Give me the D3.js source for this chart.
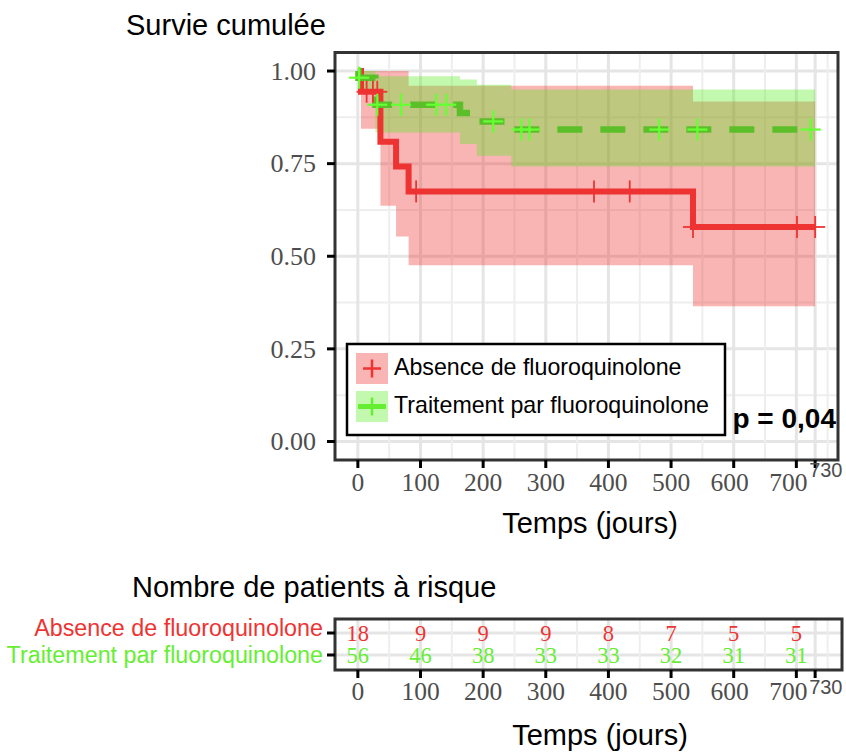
<!DOCTYPE html>
<html>
<head>
<meta charset="utf-8">
<script src="https://cdn.jsdelivr.net/npm/d3@7"></script>
<style>
  body { margin: 0; background: #fff; }
  .sans { font-family: "Liberation Sans", Arial, sans-serif; }
  .serif { font-family: "Liberation Serif", "Times New Roman", serif; }
</style>
</head>
<body>
<div id="chart"></div>
<script>
// ---- data ----
const groups = ["Absence de fluoroquinolone", "Traitement par fluoroquinolone"];
const xBreaks = [0, 100, 200, 300, 400, 500, 600, 700, 730];
const xMinor = [50, 150, 250, 350, 450, 550, 650, 750];
const yBreaks = [0, 0.25, 0.5, 0.75, 1];
const yMinor = [0.125, 0.375, 0.625, 0.875];
const riskTimes = [0, 100, 200, 300, 400, 500, 600, 700];

// Absence de fluoroquinolone (KM steps)
const absTime  = [0, 5, 36, 61, 81, 535];
const absSurv  = [1, 0.944, 0.809, 0.742, 0.675, 0.579];
const absUpper = [1, 1, 1, 1, 0.96, 0.918];
const absLower = [1, 0.844, 0.636, 0.553, 0.476, 0.365];
const absCensor = [14, 24, 31, 93, 377, 434, 535, 701, 730];
const absRisk = [18, 9, 9, 9, 8, 7, 5, 5];

// Traitement par fluoroquinolone
const trtTime  = [0, 1, 28, 163, 190, 245];
const trtSurv  = [1, 0.982, 0.909, 0.887, 0.864, 0.842];
const trtUpper = [1, 1, 0.986, 0.977, 0.963, 0.95];
const trtLower = [1, 0.948, 0.834, 0.803, 0.771, 0.742];
const trtCensor = [2, 31, 69, 125, 141, 216, 261, 274, 481, 542, 723];
const trtRisk = [56, 46, 38, 33, 33, 32, 31, 31];

const endTime = 730;
const pText = "p = 0,04";

const red = "#ee3333", green = "#66ee33", greenLine = "#5cbf2a";

const W = 846, H = 754;
const svg = d3.select("#chart").append("svg")
    .attr("width", W).attr("height", H)
    .style("background", "#fff");

// panel geometry
const P = { left: 335, right: 838, top: 52.5, bottom: 460 };
const T = { left: 335, right: 842, top: 619, bottom: 670 };

const x = d3.scaleLinear().domain([-36.5, 766.5]).range([P.left, P.right]);
const y = d3.scaleLinear().domain([-0.05, 1.05]).range([P.bottom, P.top]);

// tick labels near the right end sit a little to the left of their ticks
const labelNudge = d => d === 700 ? -8 : d === 600 ? -4 : 0;

function gridV(g, top, bottom) {
    g.selectAll(null).data(xMinor).enter().append("line")
        .attr("x1", d => x(d)).attr("x2", d => x(d)).attr("y1", top).attr("y2", bottom)
        .attr("stroke", "#eeeeee").attr("stroke-width", 2);
    g.selectAll(null).data(xBreaks).enter().append("line")
        .attr("x1", d => x(d)).attr("x2", d => x(d)).attr("y1", top).attr("y2", bottom)
        .attr("stroke", "#e5e5e5").attr("stroke-width", 3);
}

// ---------- main panel ----------
const main = svg.append("g");
svg.append("clipPath").attr("id", "pclip").append("rect")
    .attr("x", P.left).attr("y", P.top).attr("width", P.right - P.left).attr("height", P.bottom - P.top);

const grid = main.append("g").attr("clip-path", "url(#pclip)");
grid.selectAll(null).data(yMinor).enter().append("line")
    .attr("x1", P.left).attr("x2", P.right).attr("y1", d => y(d)).attr("y2", d => y(d))
    .attr("stroke", "#eeeeee").attr("stroke-width", 2);
grid.selectAll(null).data(yBreaks).enter().append("line")
    .attr("x1", P.left).attr("x2", P.right).attr("y1", d => y(d)).attr("y2", d => y(d))
    .attr("stroke", "#e5e5e5").attr("stroke-width", 3);
gridV(grid, P.top, P.bottom);

function steps(time, vals) {
    const pts = time.map((t, i) => ({ t, v: vals[i] }));
    pts.push({ t: endTime, v: vals[vals.length - 1] });
    return pts;
}
function bandPts(time, up, lo) {
    const pts = time.map((t, i) => ({ t, u: up[i], l: lo[i] }));
    pts.push({ t: endTime, u: up[up.length - 1], l: lo[lo.length - 1] });
    return pts.slice(1); // band starts at first event
}
const area = d3.area().curve(d3.curveStepAfter)
    .x(d => x(d.t)).y0(d => y(d.l)).y1(d => y(d.u));
const line = d3.line().curve(d3.curveStepAfter)
    .x(d => x(d.t)).y(d => y(d.v));

main.append("path").datum(bandPts(absTime, absUpper, absLower))
    .attr("d", area).attr("fill", red).attr("fill-opacity", 0.37);
main.append("path").datum(bandPts(trtTime, trtUpper, trtLower))
    .attr("d", area).attr("fill", "#55ee22").attr("fill-opacity", 0.36);

main.append("path").datum(steps(absTime, absSurv))
    .attr("d", line).attr("fill", "none").attr("stroke", red).attr("stroke-width", 6);
main.append("path").datum(steps(trtTime, trtSurv))
    .attr("d", line).attr("fill", "none").attr("stroke", greenLine).attr("stroke-width", 6.5)
    .attr("stroke-dasharray", "25,18");

function survAt(time, surv, t) {
    let s = surv[0];
    time.forEach((tt, i) => { if (tt <= t) s = surv[i]; });
    return s;
}
function censor(times, time, surv, color, sw) {
    times.forEach(t => {
        const cx = x(t), cy = y(survAt(time, surv, t));
        main.append("line").attr("x1", cx - 10).attr("x2", cx + 10).attr("y1", cy).attr("y2", cy)
            .attr("stroke", color).attr("stroke-width", sw);
        main.append("line").attr("x1", cx).attr("x2", cx).attr("y1", cy - 11).attr("y2", cy + 11)
            .attr("stroke", color).attr("stroke-width", sw);
    });
}
censor(absCensor, absTime, absSurv, red, 1.8);
censor(trtCensor, trtTime, trtSurv, "#66ff33", 2.2);

// border
main.append("rect").attr("x", P.left).attr("y", P.top)
    .attr("width", P.right - P.left).attr("height", P.bottom - P.top)
    .attr("fill", "none").attr("stroke", "#333").attr("stroke-width", 3);

// y axis ticks and labels
main.selectAll(null).data(yBreaks).enter().append("line")
    .attr("x1", P.left - 8).attr("x2", P.left).attr("y1", d => y(d)).attr("y2", d => y(d))
    .attr("stroke", "#000").attr("stroke-width", 3);
main.selectAll(null).data(yBreaks).enter().append("text")
    .attr("class", "serif").attr("x", 316).attr("y", d => y(d)).attr("dy", "0.34em")
    .attr("text-anchor", "end").attr("font-size", 26).attr("fill", "#4d4d4d")
    .text(d => d3.format(".2f")(d));

function xAxis(g, bottom, base730, base) {
    g.selectAll(null).data(xBreaks).enter().append("line")
        .attr("x1", d => x(d)).attr("x2", d => x(d)).attr("y1", bottom).attr("y2", bottom + 8)
        .attr("stroke", "#000").attr("stroke-width", 3);
    g.selectAll(null).data(xBreaks.filter(d => d !== 730)).enter().append("text")
        .attr("class", "serif").attr("x", d => x(d) + labelNudge(d)).attr("y", base)
        .attr("text-anchor", "middle").attr("font-size", 25.5).attr("fill", "#4d4d4d")
        .text(d => d);
    g.append("text").attr("class", "sans").attr("x", x(730) - 6).attr("y", base730)
        .attr("font-size", 20).attr("fill", "#4d4d4d").text("730");
}
xAxis(main, P.bottom, 477, 491);

// titles
svg.append("text").attr("class", "sans").attr("x", 126).attr("y", 35)
    .attr("font-size", 29).attr("fill", "#000").text("Survie cumulée");
svg.append("text").attr("class", "sans").attr("x", 590).attr("y", 533)
    .attr("text-anchor", "middle").attr("font-size", 29).attr("fill", "#000").text("Temps (jours)");

// legend
const lg = svg.append("g");
lg.append("rect").attr("x", 347).attr("y", 344).attr("width", 378).attr("height", 91)
    .attr("fill", "#fff").attr("stroke", "#000").attr("stroke-width", 2.5);
const keyY = [353, 391];
lg.append("rect").attr("x", 356).attr("y", keyY[0]).attr("width", 32).attr("height", 31)
    .attr("fill", red).attr("fill-opacity", 0.37);
lg.append("rect").attr("x", 356).attr("y", keyY[1]).attr("width", 32).attr("height", 31)
    .attr("fill", "#55ee22").attr("fill-opacity", 0.36);
lg.append("line").attr("x1", 363).attr("x2", 381).attr("y1", keyY[0] + 15.5).attr("y2", keyY[0] + 15.5)
    .attr("stroke", red).attr("stroke-width", 2.5);
lg.append("line").attr("x1", 372).attr("x2", 372).attr("y1", keyY[0] + 6.5).attr("y2", keyY[0] + 24.5)
    .attr("stroke", red).attr("stroke-width", 2.5);
lg.append("line").attr("x1", 358).attr("x2", 386).attr("y1", keyY[1] + 15.5).attr("y2", keyY[1] + 15.5)
    .attr("stroke", "#66ee33").attr("stroke-width", 5);
lg.append("line").attr("x1", 372).attr("x2", 372).attr("y1", keyY[1] + 6.5).attr("y2", keyY[1] + 24.5)
    .attr("stroke", "#66ee33").attr("stroke-width", 2.5);
lg.selectAll(null).data(groups).enter().append("text")
    .attr("class", "sans").attr("x", 394).attr("y", (d, i) => [375, 413][i])
    .attr("font-size", 23.2).attr("fill", "#000").text(d => d);

svg.append("text").attr("class", "sans").attr("x", 836).attr("y", 428)
    .attr("text-anchor", "end").attr("font-size", 28).attr("font-weight", "bold")
    .attr("fill", "#000").text(pText);

// ---------- risk table ----------
svg.append("text").attr("class", "sans").attr("x", 132).attr("y", 597)
    .attr("font-size", 29).attr("fill", "#000").text("Nombre de patients à risque");

const rowY = d3.scalePoint().domain(groups).range([633, 655]);
const tab = svg.append("g");
tab.append("clipPath").attr("id", "tclip").append("rect")
    .attr("x", T.left).attr("y", T.top).attr("width", T.right - T.left).attr("height", T.bottom - T.top);
const tgrid = tab.append("g").attr("clip-path", "url(#tclip)");
tgrid.selectAll(null).data(groups).enter().append("line")
    .attr("x1", T.left).attr("x2", T.right).attr("y1", d => rowY(d)).attr("y2", d => rowY(d))
    .attr("stroke", "#e5e5e5").attr("stroke-width", 3);
gridV(tgrid, T.top, T.bottom);

const riskRows = [absRisk, trtRisk];
const rowColor = [red, green];
riskRows.forEach((vals, r) => {
    tab.selectAll(null).data(vals).enter().append("text")
        .attr("class", "serif").attr("x", (d, i) => x(riskTimes[i])).attr("y", [641, 663][r])
        .attr("text-anchor", "middle").attr("font-size", 22.5).attr("fill", rowColor[r])
        .text(d => d);
});

tab.append("rect").attr("x", T.left).attr("y", T.top)
    .attr("width", T.right - T.left).attr("height", T.bottom - T.top)
    .attr("fill", "none").attr("stroke", "#333").attr("stroke-width", 3);

tab.selectAll(null).data(groups).enter().append("line")
    .attr("x1", T.left - 8).attr("x2", T.left).attr("y1", d => rowY(d)).attr("y2", d => rowY(d))
    .attr("stroke", "#000").attr("stroke-width", 3);
tab.selectAll(null).data(groups).enter().append("text")
    .attr("class", "sans").attr("x", 323).attr("y", (d, i) => [636, 663][i])
    .attr("text-anchor", "end").attr("font-size", 23.3).attr("fill", (d, i) => rowColor[i])
    .text(d => d);

xAxis(tab, T.bottom, 694, 700);

svg.append("text").attr("class", "sans").attr("x", 600).attr("y", 745)
    .attr("text-anchor", "middle").attr("font-size", 29).attr("fill", "#000").text("Temps (jours)");
</script>
</body>
</html>
